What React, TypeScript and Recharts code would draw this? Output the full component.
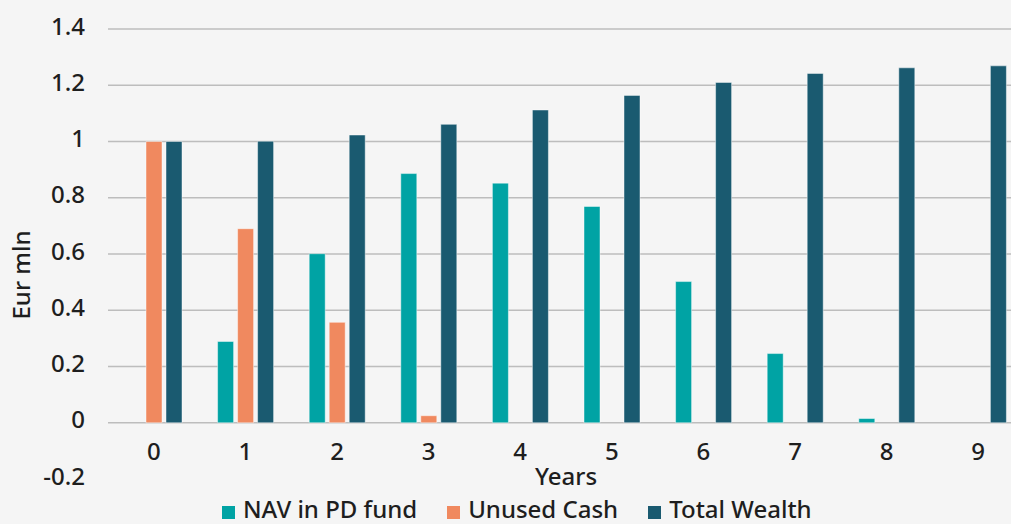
import React from 'react';
import { Bar, BarChart, CartesianGrid, Label, Legend, XAxis, YAxis } from 'recharts';

const years = ['0', '1', '2', '3', '4', '5', '6', '7', '8', '9'];
const navInPdFund = [0, 0.289, 0.601, 0.886, 0.852, 0.769, 0.502, 0.246, 0.015, 0];
const unusedCash = [1.0, 0.69, 0.357, 0.025, 0, 0, 0, 0, 0, 0];
const totalWealth = [1.0, 1.001, 1.023, 1.061, 1.112, 1.164, 1.21, 1.242, 1.262, 1.269];

const yDomain: [number, number] = [-0.2, 1.4];
const yTicks = [-0.2, 0, 0.2, 0.4, 0.6, 0.8, 1, 1.2, 1.4];
const gridTicks = [0, 0.2, 0.4, 0.6, 0.8, 1, 1.2, 1.4];
const seriesOrder = ['nav', 'cash', 'total'];

const FONT = '"Noto Sans", "Open Sans", sans-serif';
const TEXT = '#1E1E1E';
const WEIGHT = 500;
const COLORS = { nav: '#00A3A4', cash: '#F0895F', total: '#1A5A70' };

const data = years.map((year, i) => ({
  year,
  nav: navInPdFund[i],
  cash: unusedCash[i],
  total: totalWealth[i],
}));

// grid lines for every tick except the -0.2 one
const gridCoords = ({ yAxis, offset }: any) => {
  const s = yAxis && yAxis.scale;
  return gridTicks.map((v) => {
    if (typeof s === 'function') return s(v);
    if (s && typeof s.map === 'function') return s.map(v);
    return offset.top + (offset.height * (yDomain[1] - v)) / (yDomain[1] - yDomain[0]);
  });
};

const XTick = (props: any) => {
  const { x, y, payload } = props;
  return (
    <text x={x} y={y - 19} textAnchor="middle" fill={TEXT} fontSize={24} fontWeight={WEIGHT} fontFamily={FONT}>
      {payload.value}
    </text>
  );
};

const LegendContent = (props: any) => {
  const items = [...(props.payload || [])].sort(
    (a: any, b: any) => seriesOrder.indexOf(a.dataKey) - seriesOrder.indexOf(b.dataKey)
  );
  return (
    <div style={{ height: 30, display: 'flex', alignItems: 'center', paddingLeft: 222, fontFamily: FONT }}>
      {items.map((entry: any) => (
        <div key={entry.value} style={{ display: 'flex', alignItems: 'center', marginRight: 30 }}>
          <span style={{ width: 13, height: 13, background: entry.color, marginRight: 8, marginTop: 7 }} />
          <span style={{ fontSize: 24, fontWeight: WEIGHT, color: TEXT, lineHeight: '24px' }}>{entry.value}</span>
        </div>
      ))}
    </div>
  );
};

const App: React.FC = () => {
  return (
    <div style={{ position: 'absolute', left: 0, top: 0, width: 1011, height: 524, overflow: 'hidden', background: '#F5F5F5' }}>
      <BarChart
        width={1040}
        height={524}
        data={data}
        margin={{ top: 29, right: 16, left: 0, bottom: 0 }}
        barSize={16}
        barGap={4}
      >
        <CartesianGrid
          yAxisId="main"
          vertical={false}
          stroke="#BDBDBD"
          strokeWidth={1.3}
          horizontalCoordinatesGenerator={gridCoords}
        />
        <YAxis
          yAxisId="main"
          width={108}
          domain={yDomain}
          ticks={yTicks}
          axisLine={false}
          tickLine={false}
          tickSize={0}
          tickMargin={23}
          tick={{ fill: TEXT, fontSize: 24, fontWeight: WEIGHT, fontFamily: FONT, dy: -3 }}
        >
          <Label
            content={(p: any) => {
              const vb = p.viewBox;
              const cx = vb.x + 30;
              const cy = vb.y + vb.height / 2 + 21;
              return (
                <text x={cx} y={cy} transform={`rotate(-90, ${cx}, ${cy})`} textAnchor="middle" fill={TEXT} fontSize={24} fontWeight={WEIGHT} fontFamily={FONT}>
                  Eur mln
                </text>
              );
            }}
          />
        </YAxis>
        <XAxis
          dataKey="year"
          height={15}
          axisLine={false}
          tickLine={false}
          tickSize={0}
          tickMargin={0}
          tick={<XTick />}
          interval={0}
        >
          <Label
            content={(p: any) => {
              const vb = p.viewBox;
              return (
                <text x={vb.x + vb.width / 2} y={vb.y + 6} textAnchor="middle" fill={TEXT} fontSize={24} fontWeight={WEIGHT} fontFamily={FONT}>
                  Years
                </text>
              );
            }}
          />
        </XAxis>
        <Legend verticalAlign="bottom" align="left" content={<LegendContent />} />
        <Bar yAxisId="main" dataKey="nav" name="NAV in PD fund" fill={COLORS.nav} stroke="rgba(255,255,255,0.45)" strokeWidth={1} isAnimationActive={false} />
        <Bar yAxisId="main" dataKey="cash" name="Unused Cash" fill={COLORS.cash} stroke="rgba(255,255,255,0.45)" strokeWidth={1} isAnimationActive={false} />
        <Bar yAxisId="main" dataKey="total" name="Total Wealth" fill={COLORS.total} stroke="rgba(255,255,255,0.45)" strokeWidth={1} isAnimationActive={false} />
      </BarChart>
    </div>
  );
};

export default App;
